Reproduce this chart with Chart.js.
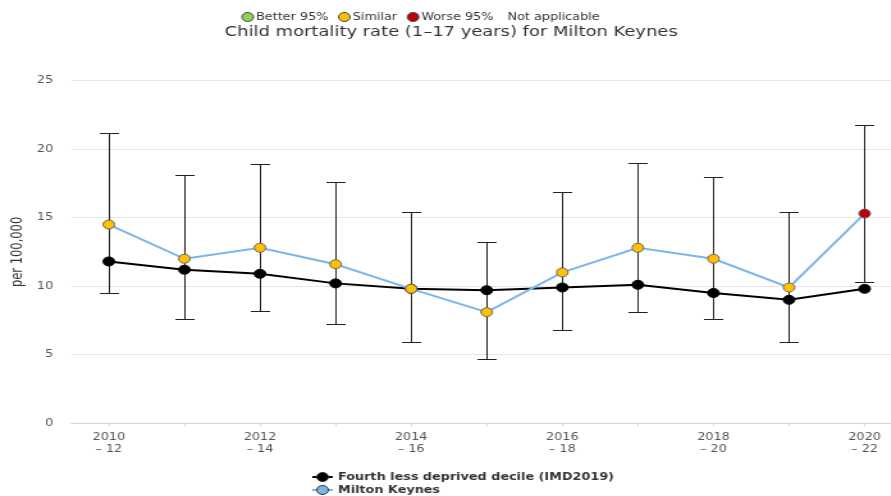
<!DOCTYPE html>
<html>
<head>
<meta charset="utf-8">
<script src="https://cdn.jsdelivr.net/npm/chart.js@4.4.0/dist/chart.umd.min.js"></script>
<style>
  html, body { margin: 0; padding: 0; background: #fff; }
  #wrap { width: 891px; height: 496px; overflow: hidden; }
  /* the reference is stretched sideways, so draw narrow and widen */
  #chart { transform: scaleX(1.28); transform-origin: 0 0; }
</style>
</head>
<body>
<div id="wrap"><canvas id="chart" width="712" height="496"></canvas></div>
<script>
const periods = ['2010 – 12', '2011 – 13', '2012 – 14', '2013 – 15', '2014 – 16', '2015 – 17',
                 '2016 – 18', '2017 – 19', '2018 – 20', '2019 – 21', '2020 – 22'];
const decile = [11.8, 11.2, 10.9, 10.2, 9.8, 9.7, 9.9, 10.1, 9.5, 9.0, 9.8];
const miltonKeynes = [14.5, 12.0, 12.8, 11.6, 9.8, 8.1, 11.0, 12.8, 12.0, 9.9, 15.3];
const mkLower = [9.5, 7.6, 8.2, 7.2, 5.9, 4.7, 6.8, 8.1, 7.6, 5.9, 10.3];
const mkUpper = [21.2, 18.1, 18.9, 17.6, 15.4, 13.2, 16.9, 19.0, 18.0, 15.4, 21.8];
const significance = ['similar', 'similar', 'similar', 'similar', 'similar', 'similar',
                      'similar', 'similar', 'similar', 'similar', 'worse'];

const sigColours = { better: '#92d050', similar: '#ffc000', worse: '#c00000' };
const sigLegend = [['Better 95%', sigColours.better], ['Similar', sigColours.similar],
                   ['Worse 95%', sigColours.worse], ['Not applicable', null]];

const FONT = "'DejaVu Sans', sans-serif";

const errorBars = {
  id: 'errorBars',
  beforeDatasetsDraw(chart) {
    const { ctx, scales: { x, y } } = chart;
    ctx.save();
    ctx.strokeStyle = '#222';
    ctx.lineWidth = 1;
    mkLower.forEach((lo, i) => {
      const px = Math.round(x.getPixelForValue(i)) + 0.5;
      const yLo = Math.round(y.getPixelForValue(lo)) + 0.5;
      const yHi = Math.round(y.getPixelForValue(mkUpper[i])) + 0.5;
      ctx.beginPath();
      ctx.moveTo(px, yHi); ctx.lineTo(px, yLo);
      ctx.moveTo(px - 7.5, yHi); ctx.lineTo(px + 7.5, yHi);
      ctx.moveTo(px - 7.5, yLo); ctx.lineTo(px + 7.5, yLo);
      ctx.stroke();
    });
    ctx.restore();
  }
};

const legends = {
  id: 'legends',
  afterDraw(chart) {
    const ctx = chart.ctx;
    ctx.save();
    ctx.textBaseline = 'middle';
    ctx.textAlign = 'left';

    // significance key above the title
    ctx.font = '10px ' + FONT;
    let x = 189;
    const ty = 17;
    sigLegend.forEach(([label, colour]) => {
      if (colour) {
        ctx.beginPath();
        ctx.arc(x + 4.5, ty, 4.5, 0, Math.PI * 2);
        ctx.fillStyle = colour;
        ctx.fill();
        ctx.strokeStyle = '#444';
        ctx.lineWidth = 1;
        ctx.stroke();
        x += 11;
      } else {
        x += 3;
      }
      ctx.fillStyle = '#333';
      ctx.fillText(label, x, ty);
      x += ctx.measureText(label).width + 8;
    });

    // series key under the axis
    ctx.font = 'bold 10px ' + FONT;
    const rows = [chart.data.datasets[1], chart.data.datasets[0]];
    rows.forEach((ds, i) => {
      const ly = 477 + i * 13;
      ctx.beginPath();
      ctx.moveTo(244, ly); ctx.lineTo(260, ly);
      ctx.strokeStyle = ds.borderColor;
      ctx.lineWidth = 2;
      ctx.stroke();
      ctx.beginPath();
      ctx.arc(252, ly, 4.5, 0, Math.PI * 2);
      ctx.fillStyle = ds.legendFill;
      ctx.fill();
      ctx.strokeStyle = '#333';
      ctx.lineWidth = 1;
      ctx.stroke();
      ctx.fillStyle = '#333';
      ctx.fillText(ds.label, 264, ly);
    });
    ctx.restore();
  }
};

new Chart(document.getElementById('chart'), {
  type: 'line',
  data: {
    labels: periods.map(p => { const [a, b] = p.split(' – '); return [a, '– ' + b]; }),
    datasets: [
      {
        label: 'Milton Keynes',
        data: miltonKeynes,
        order: 0,
        borderColor: '#7cb5ec',
        borderWidth: 2,
        pointRadius: 4.5,
        pointHoverRadius: 4.5,
        pointBackgroundColor: significance.map(s => sigColours[s]),
        pointBorderColor: '#666',
        pointBorderWidth: 1,
        legendFill: '#7cb5ec',
        tension: 0
      },
      {
        label: 'Fourth less deprived decile (IMD2019)',
        data: decile,
        order: 1,
        borderColor: '#000',
        borderWidth: 2,
        pointRadius: 4.5,
        pointHoverRadius: 4.5,
        pointBackgroundColor: '#000',
        pointBorderColor: '#000',
        pointBorderWidth: 1,
        legendFill: '#000',
        tension: 0
      }
    ]
  },
  options: {
    responsive: false,
    animation: false,
    devicePixelRatio: 1,
    layout: { padding: { top: 24, bottom: 35, left: 0, right: 7 } },
    plugins: {
      legend: { display: false },
      tooltip: { enabled: false },
      title: {
        display: true,
        text: 'Child mortality rate (1–17 years) for Milton Keynes',
        color: '#333',
        font: { family: FONT, size: 14, weight: 'normal', lineHeight: 1.2 },
        padding: { top: 0, bottom: 40 }
      }
    },
    scales: {
      x: {
        offset: true,
        grid: { drawOnChartArea: false, drawTicks: true, tickLength: 3, color: '#ccd6eb' },
        border: { color: '#ccd6eb' },
        ticks: {
          autoSkip: false,
          maxRotation: 0,
          padding: 6,
          color: '#555',
          font: { family: FONT, size: 10, lineHeight: 1.15 },
          callback: function (v, i) { return i % 2 === 0 ? this.getLabelForValue(v) : ''; }
        }
      },
      y: {
        min: 0,
        max: 25,
        afterFit: s => { s.width = 55.5; },
        grid: { color: '#e6e6e6', drawTicks: false },
        border: { display: false },
        ticks: {
          stepSize: 5,
          padding: 14,
          color: '#555',
          font: { family: FONT, size: 10 }
        },
        title: {
          display: true,
          text: 'per 100,000',
          color: '#333',
          padding: { top: 7, bottom: 0 },
          font: { family: FONT, size: 11.5 }
        }
      }
    }
  },
  plugins: [errorBars, legends]
});
</script>
</body>
</html>
